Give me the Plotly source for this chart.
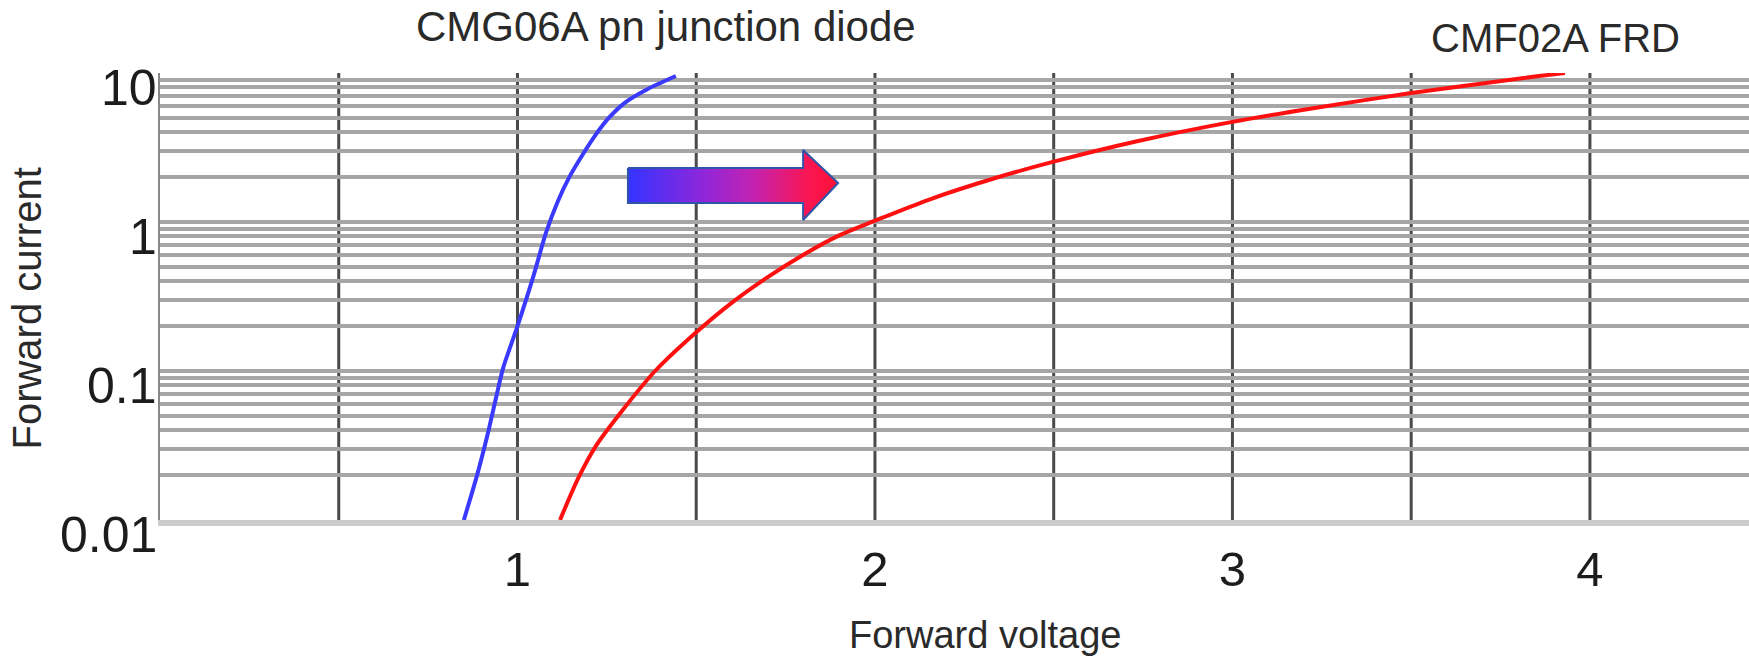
import math
import plotly.graph_objects as go

# ---------------- data ----------------
# CMG06A pn junction diode: forward voltage (V) vs forward current (A)
blue_v = [0.850, 0.887, 0.915, 0.940, 0.960, 1.000, 1.045, 1.080, 1.113, 1.145,
          1.183, 1.220, 1.256, 1.300, 1.362, 1.443]
blue_i = [0.010, 0.0200, 0.0363, 0.0661, 0.105, 0.200, 0.437, 0.851, 1.38, 2.00,
          2.85, 3.89, 5.01, 6.31, 7.76, 9.55]

# CMF02A FRD
red_v = [1.119, 1.170, 1.220, 1.295, 1.385, 1.500, 1.600, 1.700, 1.800, 1.900, 2.000,
         2.150, 2.330, 2.500, 2.730, 3.000, 3.230, 3.500, 3.810, 3.930]
red_i = [0.010, 0.0191, 0.0316, 0.055, 0.100, 0.182, 0.288, 0.427, 0.603, 0.813, 1.02,
         1.41, 1.95, 2.54, 3.47, 4.70, 5.82, 7.33, 9.23, 10.0]

x_tick_vals = [1, 2, 3, 4]
x_tick_text = ["1", "2", "3", "4"]
y_tick_vals = [0.01, 0.1, 1, 10]
y_tick_text = ["0.01", "0.1", "1", "10"]
volt_grid = [0.5, 1.0, 1.5, 2.0, 2.5, 3.0, 3.5, 4.0]

# decorative arrow outline (volts, amps)
arrow_v = [1.309, 1.799, 1.799, 1.897, 1.799, 1.799, 1.309, 1.309]
arrow_i = [2.304, 2.304, 3.043, 1.827, 1.031, 1.341, 1.341, 2.304]

label_pn = "CMG06A pn junction diode"
label_frd = "CMF02A FRD"
x_title = "Forward voltage"
y_title = "Forward current"

# ---------------- figure ----------------
FONT = "Liberation Sans, Arial, sans-serif"
TXT = "#1c1c1c"

fig = go.Figure()

fig.add_trace(go.Scatter(
    x=arrow_v, y=arrow_i, mode="lines", fill="toself",
    fillgradient=dict(type="horizontal",
                      colorscale=[[0, "#3434ff"], [0.35, "#8d27db"], [0.6, "#c422b0"],
                                  [0.85, "#f81655"], [1, "#ff1035"]]),
    line=dict(color="#2e55a8", width=2), hoverinfo="skip", showlegend=False))

fig.add_trace(go.Scatter(
    x=blue_v, y=blue_i, mode="lines", name=label_pn,
    line=dict(color="#3a3aff", width=4, shape="spline", smoothing=0.8),
    showlegend=False))

fig.add_trace(go.Scatter(
    x=red_v, y=red_i, mode="lines", name=label_frd,
    line=dict(color="#ff1010", width=4, shape="spline", smoothing=0.8),
    showlegend=False))

shapes = []
for v in volt_grid:
    shapes.append(dict(type="line", xref="x", yref="paper", x0=v, x1=v, y0=0, y1=1,
                       line=dict(color="#4a4a4a", width=3), layer="between"))

annotations = []
for val, txt in zip(y_tick_vals, y_tick_text):
    annotations.append(dict(xref="paper", yref="y", x=0, y=math.log10(val), text=txt,
                            xanchor="right", yanchor="middle", xshift=-1, yshift=-15,
                            showarrow=False, font=dict(family=FONT, size=50, color=TXT)))

annotations += [
    dict(xref="paper", yref="paper", x=0.3184, y=1.103, text=label_pn, showarrow=False,
         xanchor="center", yanchor="middle", font=dict(family=FONT, size=42, color="#2a2a2a")),
    dict(xref="paper", yref="paper", x=0.878, y=1.079, text=label_frd, showarrow=False,
         xanchor="center", yanchor="middle", font=dict(family=FONT, size=40, color="#2a2a2a")),
    dict(xref="paper", yref="paper", x=0.519, y=-0.258, text=x_title, showarrow=False,
         xanchor="center", yanchor="middle", font=dict(family=FONT, size=38, color="#2a2a2a")),
    dict(xref="paper", yref="paper", x=-0.084, y=0.472, text=y_title, showarrow=False,
         textangle=-90, xanchor="center", yanchor="middle",
         font=dict(family=FONT, size=40, color="#2a2a2a")),
]

fig.update_layout(
    width=1749, height=659,
    margin=dict(l=160, r=0, t=73, b=139),
    paper_bgcolor="white", plot_bgcolor="white",
    font=dict(family=FONT, color=TXT),
    shapes=shapes, annotations=annotations,
    xaxis=dict(range=[0, 4.445], tickvals=x_tick_vals, ticktext=x_tick_text,
               showgrid=False, zeroline=False, ticks="",
               showline=True, linecolor="#cccccc", linewidth=6,
               tickfont=dict(family=FONT, size=49, color=TXT), ticklabelstandoff=1),
    yaxis=dict(type="log", range=[-2, 1], dtick=1, showticklabels=False, ticks="",
               showgrid=True, gridcolor="#a6a6a6", gridwidth=4, zeroline=False,
               minor=dict(showgrid=True, dtick="D1", gridcolor="#a6a6a6", gridwidth=4, ticks=""),
               showline=True, linecolor="#888888", linewidth=2),
)

fig.write_html("out.html")
